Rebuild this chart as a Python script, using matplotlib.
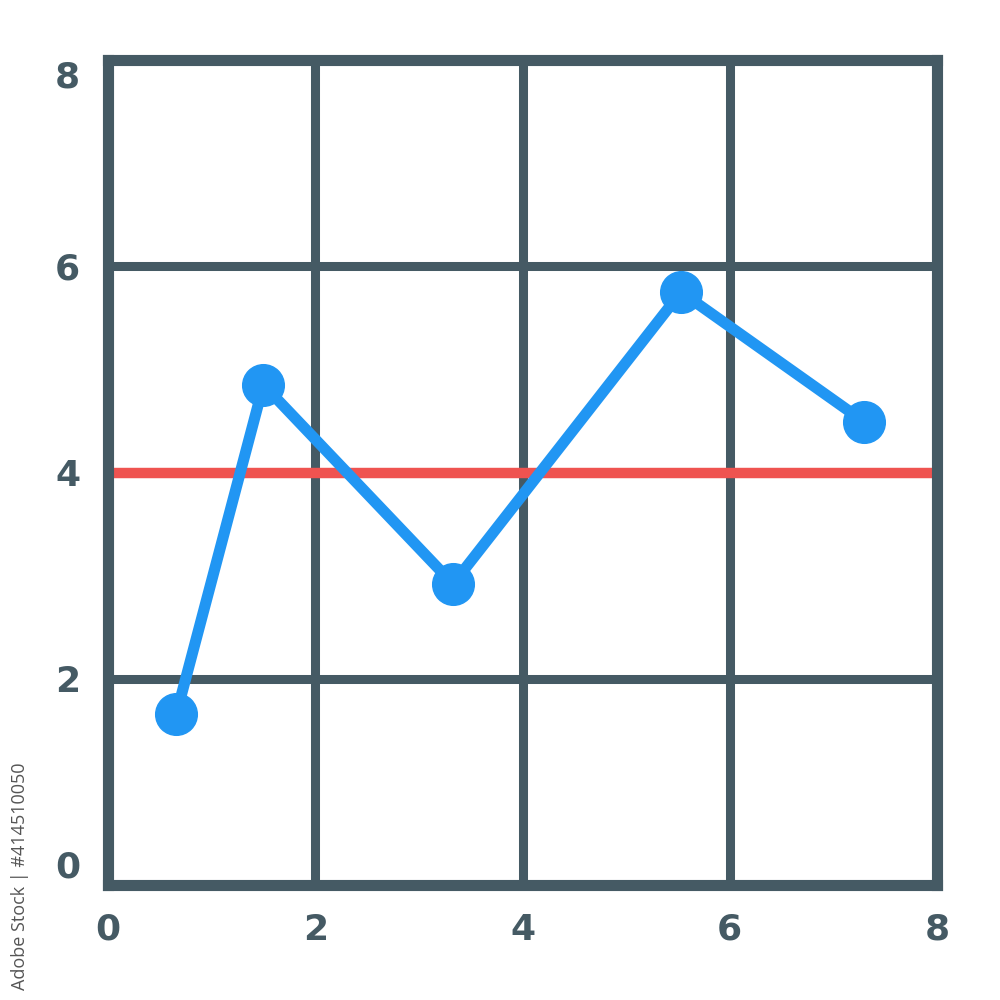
import matplotlib.pyplot as plt

# chart values
x_vals = [0.66, 1.50, 3.33, 5.53, 7.30]
y_vals = [1.66, 4.85, 2.92, 5.75, 4.49]
ref_level = 4
ticks = [0, 2, 4, 6, 8]
tick_labels = ['0', '2', '4', '6', '8']

slate = '#455a64'
blue = '#2196f3'
red = '#ef5350'

fig = plt.figure(figsize=(10, 10), dpi=100)
ax = fig.add_axes([0.108, 0.115, 0.829, 0.825])

ax.set_xlim(0, 8)
ax.set_ylim(0, 8)

for t in ticks[1:-1]:
    ax.axvline(t, color=slate, lw=6.5, zorder=1)
    ax.axhline(t, color=slate, lw=6.5, zorder=1)

ax.axhline(ref_level, color=red, lw=7.5, zorder=2)

ax.plot(x_vals, y_vals, color=blue, lw=8, marker='o', markersize=30,
        solid_joinstyle='miter', zorder=3, clip_on=False)

for side in ax.spines.values():
    side.set_color(slate)
    side.set_linewidth(8)
    side.set_zorder(4)

ax.set_xticks(ticks)
ax.set_yticks(ticks)
ax.set_xticklabels(tick_labels)
ax.set_yticklabels(tick_labels)
ax.tick_params(length=0, labelsize=26, labelcolor=slate, pad=20)
for lab in ax.get_xticklabels() + ax.get_yticklabels():
    lab.set_fontweight('bold')
    lab.set_family('DejaVu Sans')

# end labels sit inside the frame span, as in the icon
ylabs = ax.get_yticklabels()
ylabs[0].set_verticalalignment('bottom')
ylabs[-1].set_verticalalignment('top')

fig.text(0.02, 0.124, 'Adobe Stock | #414510050', rotation=90, ha='center',
         va='center', fontsize=13, color='#555555', family='Open Sans')

fig.savefig('out.png', dpi=100, facecolor='white')
